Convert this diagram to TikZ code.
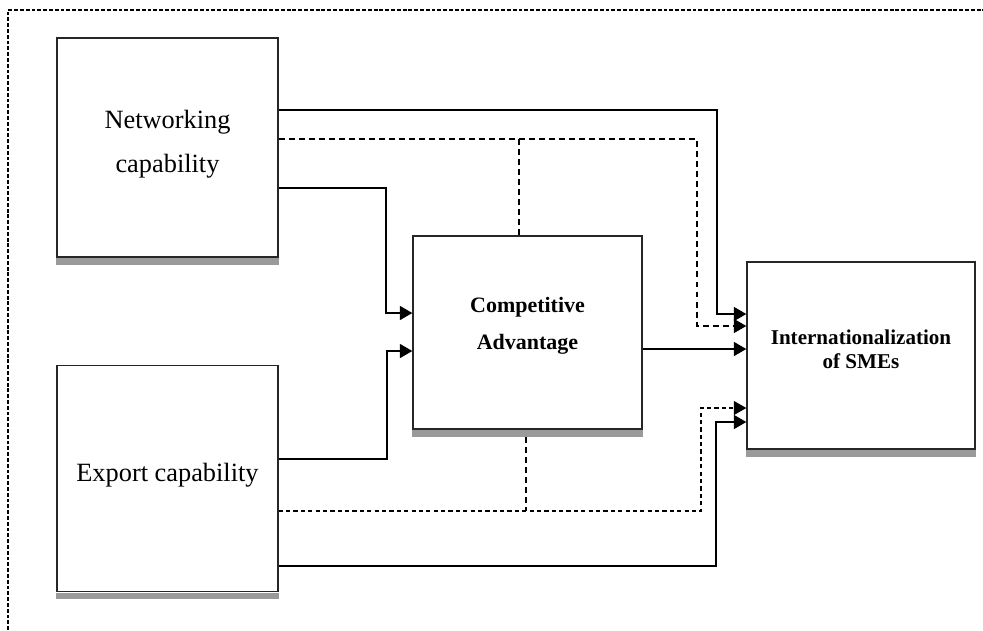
\documentclass[tikz,border=0pt]{standalone}
\usepackage{fontspec}
\setmainfont{Liberation Serif}
\usepackage{tikz}
\usetikzlibrary{positioning}
\usetikzlibrary{arrows.meta}
\tikzset{>={Triangle[width=2.8mm,length=2.5mm]}}
\definecolor{shadowgray}{HTML}{9A9A9A}

\begin{document}
\begin{tikzpicture}[x=0.02cm, y=-0.02cm,
    capbox/.style={rectangle, draw=black!85, line width=0.8pt, fill=white, inner sep=0pt, minimum width=4.42cm, text depth=0.24cm, font=\fontsize{15}{25}\selectfont, align=center},
    mainbox/.style={rectangle, draw=black!85, line width=0.8pt, fill=white, inner sep=0pt, text depth=0.24cm, font=\bfseries\fontsize{12}{13.5}\selectfont, align=center},
    link/.style={->, line width=0.9pt},
    modlink/.style={line width=0.8pt, dash pattern=on 3.4pt off 2.3pt},
    finelink/.style={line width=0.6pt, dash pattern=on 2.4pt off 1.8pt},
    frameline/.style={line width=0.8pt, dash pattern=on 2.2pt off 1.1pt} ]

    \useasboundingbox (0,0) rectangle (983,630);

    %Frame
    \draw[frameline] (8,630) -- (8,10) -- (983,10);

    %Nodes
    \node[capbox, minimum height=4.38cm] (net) at (167.5,147.5) {Networking\\capability};
    \node[capbox, minimum height=4.52cm] (exp) [below=2.14cm of net] {Export capability};
    \node[mainbox, minimum width=4.58cm, minimum height=3.86cm, text depth=0.36cm, font=\bfseries\fontsize{12.5}{21}\selectfont] (comp) at (527.5,332.5) {Competitive\\Advantage};
    \node[mainbox, minimum width=4.56cm, minimum height=3.74cm] (intl) at (861,355.5) {Internationalization\\of SMEs};

    %Shadows
    \foreach \n in {net,exp,comp,intl}
        \fill[shadowgray] ([yshift=-0.4pt]\n.south west) rectangle ([yshift=-0.14cm]\n.south east);

    %Lines
    \draw[link] (net.east |- 0,110) -| (717,314) -- (intl.west |- 0,314);
    \draw[->, modlink] (net.east |- 0,139) -| (697,326) -- (intl.west |- 0,326);
    \draw[modlink] (519,139) -- (comp.north -| 519,0);
    \draw[link] (net.east |- 0,188) -| (386,313) -- (comp.west |- 0,313);
    \draw[link] (exp.east |- 0,459) -| (387,351) -- (comp.west |- 0,351);
    \draw[link] (comp.east |- 0,349) -- (intl.west |- 0,349);
    \draw[modlink] (526,437) -- (526,511);
    \draw[->, finelink] (exp.east |- 0,511) -| (701,408) -- (intl.west |- 0,408);
    \draw[link] (exp.east |- 0,566) -| (716,422) -- (intl.west |- 0,422);
\end{tikzpicture}
\end{document}
